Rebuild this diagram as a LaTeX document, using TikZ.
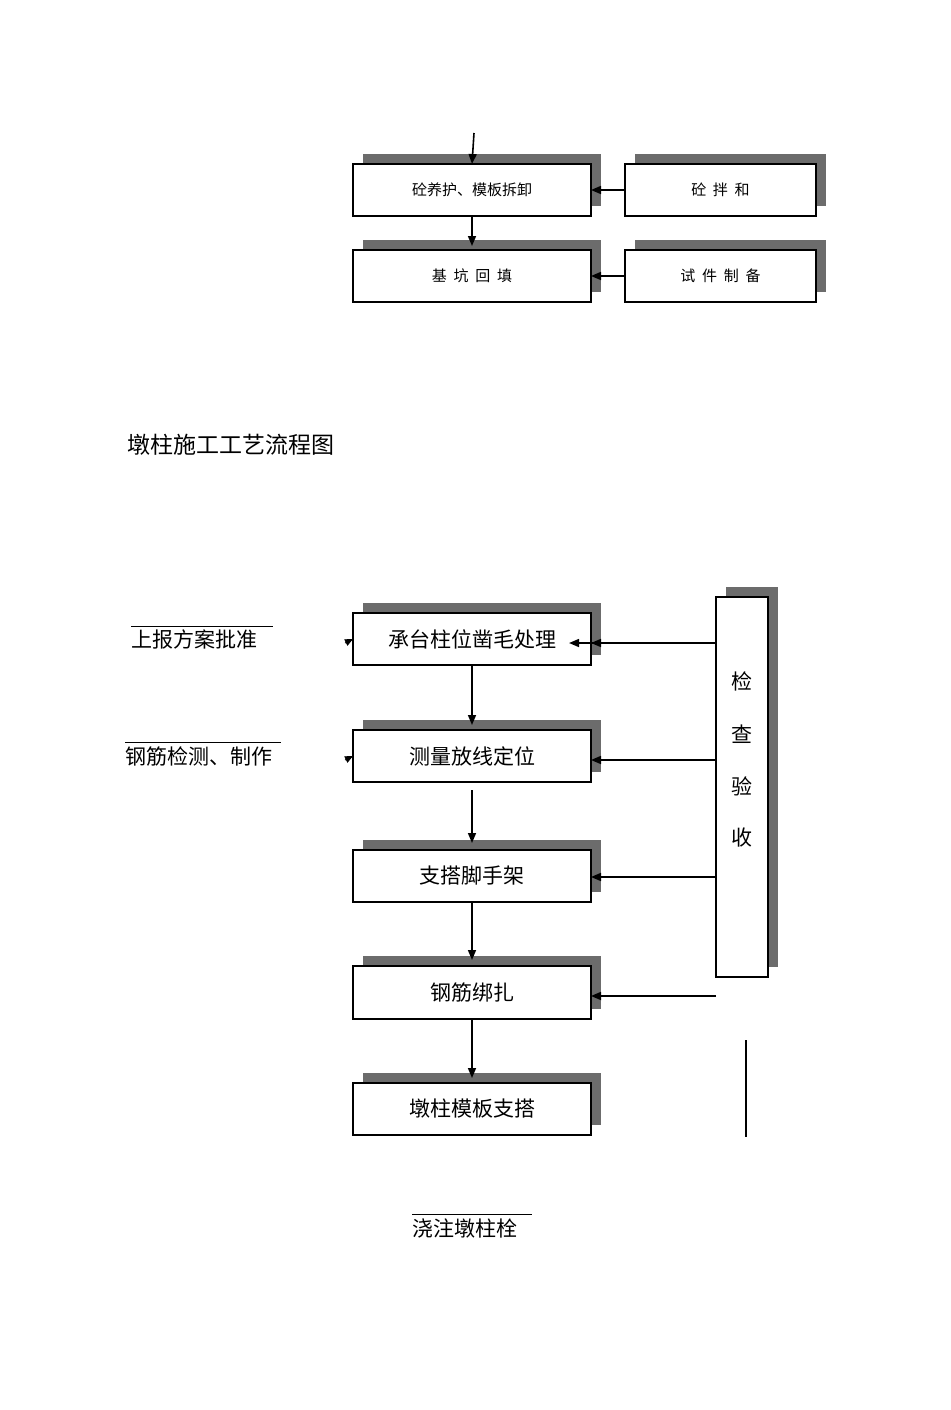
\documentclass[tikz,border=0pt]{standalone}
\usepackage{fontspec}
\setmainfont{Noto Sans CJK SC}
\usetikzlibrary{arrows.meta}
\newcommand{\shbox}[6]{% name x1 y1 x2 y2 text
  \fill[gray!85!black] (#2+10,#3-10) rectangle (#4+10,#5-10);
  \draw[fill=white,line width=0.6pt] (#2,#3) rectangle (#4,#5);
  \node (#1) at ({(#2+#4)/2},{(#3+#5)/2}) {#6};
  \coordinate (#1l) at (#2,{(#3+#5)/2});
  \coordinate (#1r) at (#4,{(#3+#5)/2});
  \coordinate (#1t) at ({(#2+#4)/2},#3);
  \coordinate (#1b) at ({(#2+#4)/2},#5);}
\newcommand{\smf}{\fontsize{7.5}{9}\selectfont}
\newcommand{\bgf}{\fontsize{10.5}{12}\selectfont}
\begin{document}
\begin{tikzpicture}[x=0.5pt,y=-0.5pt,
  arr/.style={-{Triangle[length=5pt,width=4pt]},line width=0.8pt},
  tip/.style={-{Triangle[length=4pt,width=3.5pt]},line width=0.4pt}]
\useasboundingbox (0,0) rectangle (950,1410);
% upper
\coordinate (top) at (474,133);
\shbox{u1}{353}{164}{591}{216}{\smf 砼养护、模板拆卸}
\shbox{u2}{625}{164}{816}{216}{\smf 砼\ \ 拌\ \ 和}
\shbox{u3}{353}{250}{591}{302}{\smf 基\ \ 坑\ \ 回\ \ 填}
\shbox{u4}{625}{250}{816}{302}{\smf 试\ \ 件\ \ 制\ \ 备}
\draw[arr] (top) -- (u1t);
\draw[arr,shorten >=2pt] (u1b) -- (u3t);
\draw[arr] (u2l) -- (u1r);
\draw[arr] (u4l) -- (u3r);
\node[anchor=west,font=\fontsize{11.5}{14}\selectfont] (title) at (120,445) {墩柱施工工艺流程图};
% lower
\shbox{a}{353}{613}{591}{665}{\bgf 承台柱位凿毛处理}
\shbox{b}{353}{730}{591}{782}{\bgf 测量放线定位}
\shbox{c}{353}{850}{591}{902}{\bgf 支搭脚手架}
\shbox{d}{353}{966}{591}{1019}{\bgf 钢筋绑扎}
\shbox{e}{353}{1083}{591}{1135}{\bgf 墩柱模板支搭}
\draw[arr,shorten >=2.5pt] (ab) -- (bt);
\draw[arr,shorten <=4pt,shorten >=3.5pt] (bb) -- (ct);
\draw[arr,shorten >=3pt] (cb) -- (dt);
\draw[arr,shorten >=2.5pt] (db) -- (et);
% check box
\fill[gray!85!black] (726,587) rectangle (778,967);
\draw[fill=white,line width=0.6pt] (716,597) rectangle (768,977);
\foreach \t/\y in {检/681,查/734,验/786,收/838} \node[font=\bgf] at (742,\y) {\t};
\coordinate (k1) at (716,643);
\coordinate (k2) at (716,760);
\coordinate (k3) at (716,877);
\coordinate (k4) at (716,996);
\draw[arr,shorten >=3pt] (k1) -- (a.east |- k1);
\draw[arr] (k1) -- (591,643);
\draw[arr] (k2) -- (591,760);
\draw[arr] (k3) -- (591,877);
\draw[arr] (k4) -- (591,996);
\draw[line width=0.6pt] (746,1040) coordinate (v1) -- (746,1137) coordinate (v2);
% side labels
\node[anchor=west,font=\bgf,inner sep=0pt] (s1) at (131,639) {上报方案批准};
\draw[line width=0.3pt] (131,626) -- (273,626);
\node[anchor=west,font=\bgf,inner sep=0pt] (s2) at (125,756) {钢筋检测、制作};
\draw[line width=0.3pt] (125,742) -- (281,742);
\coordinate (t1) at (345,643);
\coordinate (t2) at (345,760);
\draw[tip] (t1) -- (al);
\draw[tip] (t2) -- (bl);
\node[anchor=west,font=\bgf,inner sep=0pt] (s3) at (412,1228) {浇注墩柱栓};
\draw[line width=0.3pt] (412,1214) -- (532,1214);
\end{tikzpicture}
\end{document}
